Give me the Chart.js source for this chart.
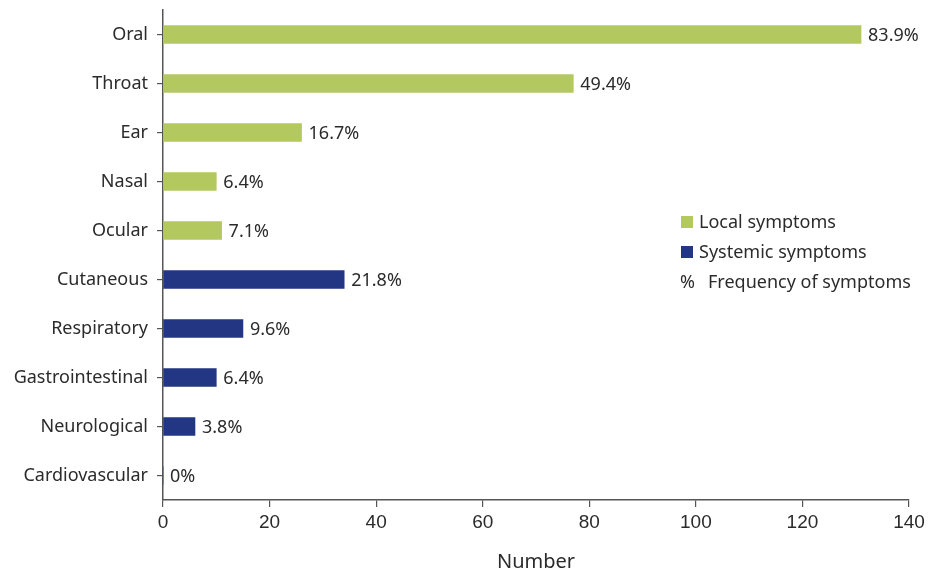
<!DOCTYPE html>
<html>
<head>
<meta charset="utf-8">
<script src="https://cdn.jsdelivr.net/npm/chart.js@4"></script>
<style>
  html, body { margin: 0; padding: 0; background: #fff; }
  #wrap { width: 939px; height: 572px; }
</style>
</head>
<body>
<div id="wrap"><canvas id="myChart"></canvas></div>
<script>
const categories = ["Oral", "Throat", "Ear", "Nasal", "Ocular", "Cutaneous", "Respiratory", "Gastrointestinal", "Neurological", "Cardiovascular"];
const counts = [131, 77, 26, 10, 11, 34, 15, 10, 6, 0];
const percents = ["83.9%", "49.4%", "16.7%", "6.4%", "7.1%", "21.8%", "9.6%", "6.4%", "3.8%", "0%"];
const groups = ["local", "local", "local", "local", "local", "systemic", "systemic", "systemic", "systemic", "systemic"];
const xTicks = [0, 20, 40, 60, 80, 100, 120, 140];

const green = "#b3c960";
const navy = "#233683";
const textColor = "#2b2b2b";
const labelFont = "'Noto Sans', sans-serif";

const ctx = document.getElementById("myChart").getContext("2d");

// percent next to each bar
const percentLabels = {
    id: "percentLabels",
    afterDatasetsDraw(chart) {
        const c = chart.ctx;
        const meta = chart.getDatasetMeta(0);
        c.save();
        c.font = "18px " + labelFont;
        c.fillStyle = textColor;
        c.textBaseline = "middle";
        c.textAlign = "left";
        meta.data.forEach((bar, i) => {
            c.fillText(percents[i], bar.x + 7, bar.y + 1);
        });
        c.restore();
    }
};

// legend box at the right
const sideLegend = {
    id: "sideLegend",
    afterDraw(chart) {
        const c = chart.ctx;
        c.save();
        c.font = "18px " + labelFont;
        c.textBaseline = "middle";
        c.textAlign = "left";
        c.fillStyle = green;
        c.fillRect(681, 216, 12, 12);
        c.fillStyle = navy;
        c.fillRect(681, 246, 12, 12);
        c.fillStyle = textColor;
        c.fillText("Local symptoms", 699, 223);
        c.fillText("Systemic symptoms", 699, 253);
        c.fillText("%", 680, 283);
        c.fillText("Frequency of symptoms", 708, 283);
        c.restore();
    }
};

new Chart(ctx, {
    type: "bar",
    data: {
        labels: categories,
        datasets: [{
            data: counts,
            backgroundColor: groups.map(g => g == "local" ? green : navy),
            barThickness: 18,
            borderWidth: 0
        }]
    },
    options: {
        indexAxis: "y",
        responsive: true,
        maintainAspectRatio: false,
        animation: false,
        layout: { padding: { left: 0, right: 30, top: 10, bottom: 0 } },
        plugins: {
            legend: { display: false },
            tooltip: { enabled: false }
        },
        scales: {
            x: {
                min: 0,
                max: 140,
                afterBuildTicks: (s) => { s.ticks = xTicks.map(v => ({ value: v })); },
                grid: { drawOnChartArea: false, tickLength: 7, color: "#555", lineWidth: 1.2 },
                border: { color: "#555", width: 1.5 },
                ticks: { color: textColor, font: { family: "'Liberation Sans', Arial, sans-serif", size: 19 }, padding: 4 },
                title: { display: true, text: "Number", color: textColor, font: { family: labelFont, size: 20, lineHeight: 1 }, padding: { top: 12, bottom: 0 } },
                afterFit: (s) => { s.height = 72; s.paddingLeft = 0; s.paddingRight = 0; }
            },
            y: {
                grid: { drawOnChartArea: false, tickLength: 6, color: "#555", lineWidth: 1.2, offset: false },
                border: { color: "#555", width: 1.5 },
                ticks: { color: textColor, font: { family: labelFont, size: 18 }, padding: 9 },
                afterFit: (s) => { s.width = 163; s.paddingTop = 0; s.paddingBottom = 0; }
            }
        }
    },
    plugins: [percentLabels, sideLegend]
});
</script>
</body>
</html>
